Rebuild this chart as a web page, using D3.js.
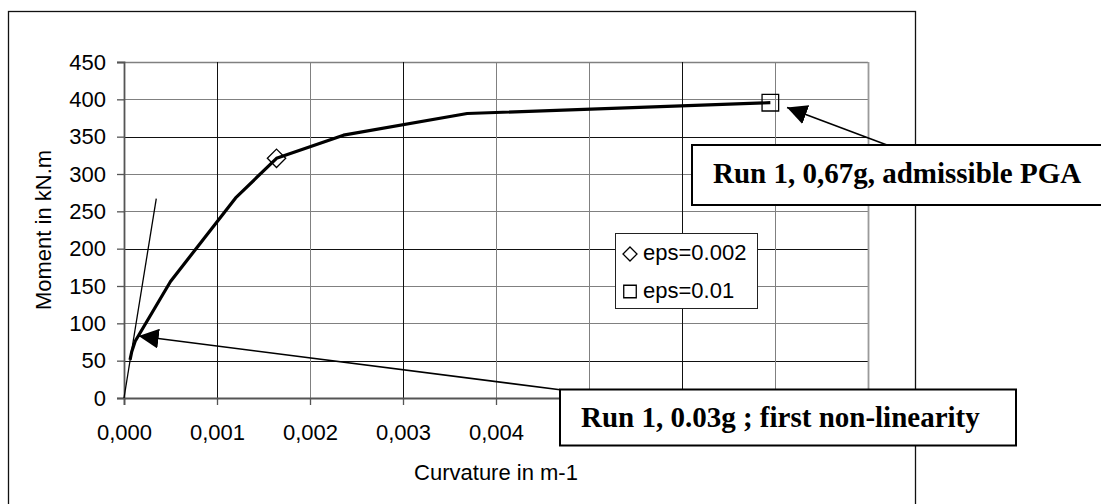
<!DOCTYPE html>
<html>
<head>
<meta charset="utf-8">
<script src="https://cdn.jsdelivr.net/npm/d3@7"></script>
<style>
  body { margin: 0; background: #fff; }
  svg { display: block; }
</style>
</head>
<body>
<div id="chart"></div>
<script>
// DATA
const curvature = [0.000065, 0.000083, 0.00012, 0.0005, 0.0012, 0.00164, 0.00236, 0.00369, 0.00695];
const moment = [51, 62, 76, 156, 268, 321, 352, 381, 395.5];
const tangentX = [0, 0.000347];
const tangentY = [0, 267];
const eps002 = [{ x: 0.00164, y: 321 }];
const eps001 = [{ x: 0.00695, y: 395.5 }];
const xTicks = [0, 0.001, 0.002, 0.003, 0.004, 0.005, 0.006, 0.007, 0.008];
const yTicks = [0, 50, 100, 150, 200, 250, 300, 350, 400, 450];
const legendLabels = ["eps=0.002", "eps=0.01"];
const notes = [
  { text: "Run 1, 0,67g, admissible PGA", tipX: 0.00713, tipY: 389 },
  { text: "Run 1, 0.03g ; first non-linearity", tipX: 0.000158, tipY: 83 },
];

const width = 1101,
  height = 504,
  margin = { top: 62, bottom: 106, left: 124, right: 233 };

const svg = d3
  .select("#chart")
  .append("svg")
  .attr("width", width)
  .attr("height", height)
  .style("font-family", "'Liberation Sans', Arial, sans-serif");

// outer chart frame (runs off the bottom like the original)
svg
  .append("rect")
  .attr("x", 8.5)
  .attr("y", 11.5)
  .attr("width", 907)
  .attr("height", 520)
  .attr("fill", "none")
  .attr("stroke", "#111")
  .attr("stroke-width", 1.3);

// SCALES
const xScale = d3
  .scaleLinear()
  .domain([0, 0.008])
  .range([margin.left, width - margin.right]);

const yScale = d3
  .scaleLinear()
  .domain([0, 450])
  .range([height - margin.bottom, margin.top]);

const comma = d3.formatLocale({ decimal: ",", thousands: ".", grouping: [3], currency: ["", ""] });

// callout boxes (pixel layout)
const boxes = [
  { x: 692, y: 145, w: 420, h: 60, tx: 713, ty: 183, sx: 887, sy: 145 },
  { x: 560, y: 389.5, w: 456, h: 56, tx: 581, ty: 427, sx: 562, sy: 390 },
];

// gridlines (some render darker in the source image)
const darkY = (v) => v === 50 || v === 200 || v === 350;
const darkX = (v) => Math.abs(v - 0.001) < 1e-9 || Math.abs(v - 0.003) < 1e-9 || Math.abs(v - 0.006) < 1e-9;

svg
  .append("g")
  .selectAll("line")
  .data(yTicks.filter((d) => d > 0))
  .join("line")
  .attr("x1", margin.left)
  .attr("x2", width - margin.right)
  .attr("y1", (d) => Math.round(yScale(d)) + 0.5)
  .attr("y2", (d) => Math.round(yScale(d)) + 0.5)
  .attr("stroke", (d) => (darkY(d) ? "#111" : "#808080"))
  .attr("stroke-width", (d) => (d === 450 ? 1.5 : 1));

svg
  .append("g")
  .selectAll("line")
  .data(xTicks.filter((d) => d > 0))
  .join("line")
  .attr("y1", margin.top)
  .attr("y2", height - margin.bottom)
  .attr("x1", (d) => Math.round(xScale(d)) + 0.5)
  .attr("x2", (d) => Math.round(xScale(d)) + 0.5)
  .attr("stroke", (d) => (d === 0.008 ? "#9a9a9a" : darkX(d) ? "#111" : "#808080"))
  .attr("stroke-width", (d) => (d === 0.008 ? 1.8 : 1));

// AXES
const xAxis = d3
  .axisBottom(xScale)
  .tickValues(xTicks)
  .tickSize(7)
  .tickPadding(19)
  .tickFormat(comma.format(".3f"));
const yAxis = d3.axisLeft(yScale).tickValues(yTicks).tickSize(7).tickPadding(11);

const gx = svg
  .append("g")
  .attr("class", "axis x-axis")
  .attr("transform", `translate(0,${height - margin.bottom})`)
  .call(xAxis);

const gy = svg
  .append("g")
  .attr("class", "axis y-axis")
  .attr("transform", `translate(${margin.left},0)`)
  .call(yAxis);

[gx, gy].forEach((g) => {
  g.select(".domain").attr("stroke", "#555").attr("stroke-width", 1.8);
  g.selectAll(".tick line").attr("stroke", "#555").attr("stroke-width", 1.3);
  g.selectAll(".tick text")
    .attr("fill", "#000")
    .style("font-size", "22px")
    .style("font-family", "'Liberation Sans', Arial, sans-serif");
});

// tick labels that sit under the lower callout box are hidden in the original
gx.selectAll(".tick text").filter((d) => xScale(d) + 30 > boxes[1].x).remove();

svg
  .append("text")
  .attr("x", (margin.left + width - margin.right) / 2)
  .attr("y", 480)
  .attr("text-anchor", "middle")
  .style("font-size", "22px")
  .text("Curvature in m-1");

svg
  .append("text")
  .attr("transform", `translate(51,${(margin.top + height - margin.bottom) / 2}) rotate(-90)`)
  .attr("text-anchor", "middle")
  .style("font-size", "22px")
  .text("Moment in kN.m");

// tangent line
const tangent = tangentX.map((x, i) => [x, tangentY[i]]);
svg
  .append("path")
  .datum(tangent)
  .attr("fill", "none")
  .attr("stroke", "#000")
  .attr("stroke-width", 1.3)
  .attr("d", d3.line((d) => xScale(d[0]), (d) => yScale(d[1])));

// moment-curvature curve
const curve = curvature.map((x, i) => [x, moment[i]]);
svg
  .append("path")
  .datum(curve)
  .attr("fill", "none")
  .attr("stroke", "#000")
  .attr("stroke-width", 3.2)
  .attr("stroke-linejoin", "round")
  .attr("d", d3.line((d) => xScale(d[0]), (d) => yScale(d[1])));

// markers
const diamond = d3.symbol(d3.symbolDiamond2);
const square = d3.symbol(d3.symbolSquare2);

svg
  .selectAll(".dia")
  .data(eps002)
  .join("path")
  .attr("class", "dia")
  .attr("transform", (d) => `translate(${xScale(d.x)},${yScale(d.y)})`)
  .attr("d", diamond.size(215))
  .attr("fill", "none")
  .attr("stroke", "#000")
  .attr("stroke-width", 1.3);

svg
  .selectAll(".sq")
  .data(eps001)
  .join("path")
  .attr("class", "sq")
  .attr("transform", (d) => `translate(${xScale(d.x)},${yScale(d.y)})`)
  .attr("d", square.size(350))
  .attr("fill", "none")
  .attr("stroke", "#000")
  .attr("stroke-width", 1.3);

// legend
const legend = svg.append("g").attr("transform", "translate(615,233)");
legend
  .append("rect")
  .attr("x", 0.5)
  .attr("y", 0.5)
  .attr("width", 142)
  .attr("height", 75)
  .attr("fill", "#fff")
  .attr("stroke", "#222");
const legendSymbols = [diamond, square];
legendLabels.forEach((label, i) => {
  legend
    .append("path")
    .attr("transform", `translate(15,${21 + i * 37.5})`)
    .attr("d", legendSymbols[i].size(i === 0 ? 125 : 200))
    .attr("fill", "none")
    .attr("stroke", "#000")
    .attr("stroke-width", 1.3);
  legend
    .append("text")
    .attr("x", 28)
    .attr("y", 27 + i * 37.5)
    .style("font-size", "22px")
    .text(label);
});

// annotations: callout boxes with arrows
const defs = svg.append("defs");
defs
  .append("marker")
  .attr("id", "arrow")
  .attr("viewBox", "0 0 10 10")
  .attr("refX", 10)
  .attr("refY", 5)
  .attr("markerWidth", 20)
  .attr("markerHeight", 20)
  .attr("markerUnits", "userSpaceOnUse")
  .attr("orient", "auto")
  .append("path")
  .attr("d", "M0,0L10,5L0,10Z")
  .attr("fill", "#000");

notes.forEach((n, i) => {
  const b = boxes[i];
  svg
    .append("line")
    .attr("x1", b.sx)
    .attr("y1", b.sy)
    .attr("x2", xScale(n.tipX))
    .attr("y2", yScale(n.tipY))
    .attr("stroke", "#000")
    .attr("stroke-width", 1.6)
    .attr("marker-end", "url(#arrow)");
  svg
    .append("rect")
    .attr("x", b.x)
    .attr("y", b.y)
    .attr("width", b.w)
    .attr("height", b.h)
    .attr("fill", "#fff")
    .attr("stroke", "#000")
    .attr("stroke-width", 2);
  svg
    .append("text")
    .attr("x", b.tx)
    .attr("y", b.ty)
    .style("font-family", "'Liberation Serif', 'Times New Roman', serif")
    .style("font-weight", "bold")
    .style("font-size", "29px")
    .text(n.text);
});
</script>
</body>
</html>
